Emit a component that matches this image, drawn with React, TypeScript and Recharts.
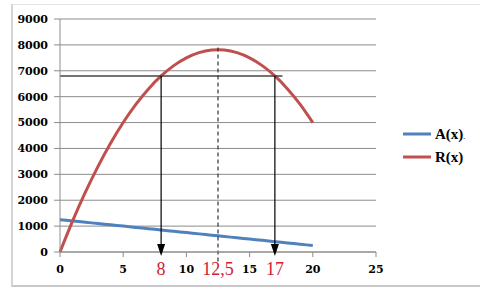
import React from "react";
import {
  LineChart,
  Line,
  XAxis,
  YAxis,
  CartesianGrid,
  ReferenceLine,
  ReferenceDot,
} from "recharts";

const xValues = [0, 1, 2, 3, 4, 5, 6, 7, 8, 9, 10, 11, 12, 13, 14, 15, 16, 17, 18, 19, 20];
const aValues = [1250, 1200, 1150, 1100, 1050, 1000, 950, 900, 850, 800, 750, 700, 650, 600, 550, 500, 450, 400, 350, 300, 250];
const rValues = [0, 1200, 2300, 3300, 4200, 5000, 5700, 6300, 6800, 7200, 7500, 7700, 7800, 7800, 7700, 7500, 7200, 6800, 6300, 5700, 5000];

const xTicks = [0, 5, 8, 10, 12.5, 15, 17, 20, 25];
const yTicks = [0, 1000, 2000, 3000, 4000, 5000, 6000, 7000, 8000, 9000];
const redTickLabels: Record<string, string> = { "8": "8", "12.5": "12,5", "17": "17" };
const seriesNames = ["A(x)", "R(x)"];

const levelY = 6800;
const levelEndX = 17.6;
const arrowXs = [8, 17];
const peakX = 12.5;
const peakTopY = 7900;
const peakBottomY = -420;

const data = xValues.map((x, i) => ({ x, A: aValues[i], R: rValues[i] }));

const BLUE = "#4f81bd";
const RED = "#c0504d";
const GRID = "#8c8c8c";
const TICK_FONT = "'DejaVu Serif', serif";

const XTick = (props: any) => {
  const { x, y, payload } = props;
  const v = payload.value;
  const key = String(v);
  if (redTickLabels[key] !== undefined) {
    return (
      <text
        x={x}
        y={y + 15}
        textAnchor="middle"
        fill="#d0202f"
        fontFamily="'Liberation Serif', serif"
        fontSize={18}
      >
        {redTickLabels[key]}
      </text>
    );
  }
  return (
    <g>
      <line x1={x} x2={x} y1={y - 8} y2={y - 3} stroke={GRID} strokeWidth={1} />
      <text
        x={x}
        y={y + 13}
        textAnchor="middle"
        fill="#000"
        fontFamily={TICK_FONT}
        fontWeight="bold"
        fontSize={11}
      >
        {v}
      </text>
    </g>
  );
};

const Arrowhead = (props: any) => {
  const { cx, cy } = props;
  return <path d={`M${cx - 4},${cy - 8} L${cx + 4},${cy - 8} L${cx},${cy + 4} Z`} fill="#000" />;
};

const LegendBox = () => (
  <svg width={80} height={50} style={{ position: "absolute", left: 400, top: 122 }}>
    <line x1={3} x2={31} y1={12} y2={12} stroke={BLUE} strokeWidth={3} />
    <text x={35} y={17} fontFamily="'Liberation Serif', serif" fontWeight="bold" fontSize={15} fill="#000">
      {seriesNames[0]}
      <tspan fontSize={7}>.</tspan>
    </text>
    <line x1={3} x2={31} y1={35} y2={35} stroke={RED} strokeWidth={3} />
    <text x={35} y={40} fontFamily="'Liberation Serif', serif" fontWeight="bold" fontSize={15} fill="#000">
      {seriesNames[1]}
    </text>
  </svg>
);

export default function App() {
  return (
    <div style={{ position: "absolute", left: 0, top: 0, width: 489, height: 292, background: "#fff" }}>
      <div
        style={{
          position: "absolute",
          left: 11,
          top: 4,
          width: 467,
          height: 280,
          borderLeft: "2px solid #d4d4d4",
          borderTop: "1px solid #e4e4e4",
          borderBottom: "2px solid #c8c8c8",
        }}
      />
      <div style={{ position: "absolute", left: 0, top: 0 }}>
        <LineChart
          width={489}
          height={292}
          data={data}
          margin={{ top: 19, right: 113, bottom: 15, left: 15 }}
        >
          <CartesianGrid horizontal={true} vertical={false} stroke={GRID} strokeWidth={1} />
          <XAxis
            dataKey="x"
            type="number"
            domain={[0, 25]}
            ticks={xTicks}
            interval={0}
            height={25}
            tickLine={false}
            tickSize={6}
            tickMargin={2}
            axisLine={{ stroke: GRID }}
            tick={<XTick />}
          />
          <YAxis
            type="number"
            domain={[0, 9000]}
            ticks={yTicks}
            interval={0}
            width={45}
            tickSize={6}
            tickMargin={6}
            tickLine={{ stroke: GRID }}
            axisLine={{ stroke: GRID }}
            tick={{ fill: "#000", fontFamily: TICK_FONT, fontWeight: "bold", fontSize: 11 }}
          />
          <Line
            type="natural"
            dataKey="A"
            name={seriesNames[0]}
            stroke={BLUE}
            strokeWidth={3}
            dot={false}
            isAnimationActive={false}
          />
          <Line
            type="natural"
            dataKey="R"
            name={seriesNames[1]}
            stroke={RED}
            strokeWidth={3}
            dot={false}
            isAnimationActive={false}
          />
          <ReferenceLine
            segment={[{ x: 0, y: levelY }, { x: levelEndX, y: levelY }]}
            stroke="#444"
            strokeWidth={1.5}
          />
          {arrowXs.map((ax) => (
            <ReferenceLine
              key={`v${ax}`}
              segment={[{ x: ax, y: levelY }, { x: ax, y: 0 }]}
              stroke="#000"
              strokeWidth={1.2}
            />
          ))}
          <ReferenceLine
            segment={[{ x: peakX, y: peakTopY }, { x: peakX, y: peakBottomY }]}
            stroke="#333"
            strokeWidth={1.2}
            strokeDasharray="4 3"
            ifOverflow="visible"
          />
          {arrowXs.map((ax) => (
            <ReferenceDot key={`a${ax}`} x={ax} y={0} r={4} shape={<Arrowhead />} ifOverflow="visible" />
          ))}
        </LineChart>
      </div>
      <LegendBox />
    </div>
  );
}
